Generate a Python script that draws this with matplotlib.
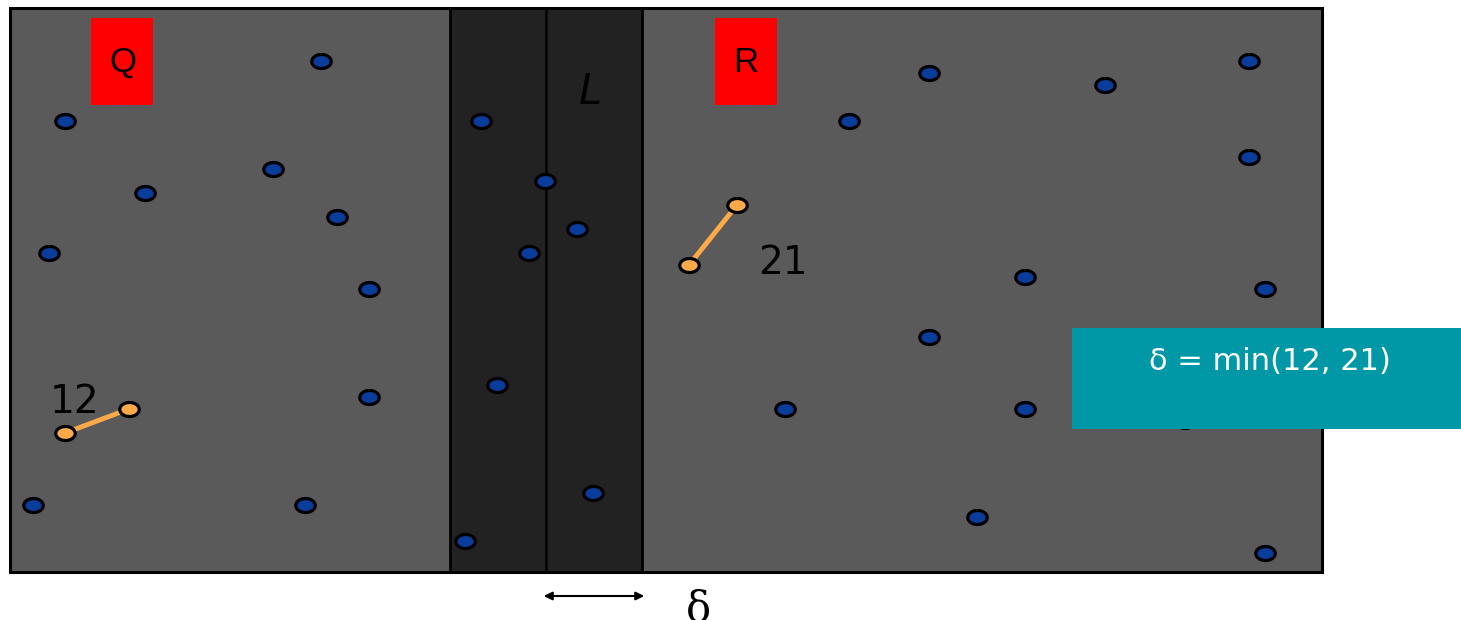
import numpy as np
import matplotlib.pyplot as plt
from matplotlib.patches import Rectangle
from matplotlib.path import Path

# point positions, in picture pixels (x right, y down)
q_x = [321, 65, 145, 273, 337, 49, 369, 369, 33, 305]
q_y = [61, 121, 193, 169, 217, 253, 289, 397, 505, 505]
strip_x = [481, 545, 577, 529, 497, 593, 465]
strip_y = [121, 181, 229, 253, 385, 493, 541]
r_x = [929, 1105, 1249, 849, 1249, 1025, 1265, 929, 785, 1025, 1185, 977, 1265]
r_y = [73, 85, 61, 121, 157, 277, 289, 337, 409, 409, 421, 517, 553]
pair12_x = [65, 129]
pair12_y = [433, 409]
pair21_x = [689, 737]
pair21_y = [265, 205]

GRAY = '#5a5a5a'
DARK = '#222222'
BLUE = '#0a3c9c'
ORANGE = '#ffaa48'
TEAL = '#0098a6'

# flat ellipse marker
t = np.linspace(0, 2 * np.pi, 60)
ellipse = Path(np.column_stack([np.cos(t), 0.72 * np.sin(t)]), closed=True)


def main():
    fig = plt.figure(figsize=(14.61, 6.2), dpi=100)
    ax = fig.add_axes([0, 0, 1, 1])
    ax.set_xlim(0, 1461)
    ax.set_ylim(620, 0)
    ax.axis('off')

    ax.add_patch(Rectangle((10, 8), 1312, 564, facecolor=GRAY,
                           edgecolor='black', lw=2.2, zorder=1))
    ax.add_patch(Rectangle((450, 8), 192, 564, facecolor=DARK,
                           edgecolor='black', lw=2.0, zorder=2))
    ax.plot([546, 546], [8, 572], color='black', lw=1.8, zorder=3)

    ax.add_patch(Rectangle((91, 18), 62, 87, facecolor='#ff0000', lw=0, zorder=3))
    ax.add_patch(Rectangle((715, 18), 62, 87, facecolor='#ff0000', lw=0, zorder=3))
    ax.text(123, 62, 'Q', fontsize=25, family='Liberation Sans',
            ha='center', va='center', zorder=4)
    ax.text(746, 62, 'R', fontsize=25, family='Liberation Sans',
            ha='center', va='center', zorder=4)
    ax.text(590, 92, 'L', fontsize=30, style='italic', ha='center',
            va='center', zorder=4)

    ms = 14
    mew = 2.3
    for xs, ys in [(q_x, q_y), (strip_x, strip_y), (r_x, r_y)]:
        ax.plot(xs, ys, ls='none', marker=ellipse, ms=ms, mfc=BLUE,
                mec='black', mew=mew, zorder=5)
    for xs, ys in [(pair12_x, pair12_y), (pair21_x, pair21_y)]:
        ax.plot(xs, ys, color=ORANGE, lw=3.5, zorder=5)
        ax.plot(xs, ys, ls='none', marker=ellipse, ms=ms, mfc=ORANGE,
                mec='black', mew=mew, zorder=6)

    ax.text(75, 402, '12', fontsize=28, ha='center', va='center', zorder=6)
    ax.text(783, 263, '21', fontsize=28, ha='center', va='center', zorder=6)

    ax.add_patch(Rectangle((1072, 328), 389, 101, facecolor=TEAL, lw=0, zorder=8))
    ax.text(1270, 362, '\u03b4 = min(12, 21)', fontsize=22, color='white',
            ha='center', va='center', zorder=9)

    ax.annotate('', xy=(541, 596), xytext=(647, 596),
                arrowprops=dict(arrowstyle='<|-|>', color='black', lw=1.5,
                                mutation_scale=12), zorder=6)
    ax.text(698, 588, '\u03b4', fontsize=30, family='DejaVu Serif',
            ha='center', va='top', zorder=6)

    fig.savefig('out.png', dpi=100)


if __name__ == "__main__":
    main()
